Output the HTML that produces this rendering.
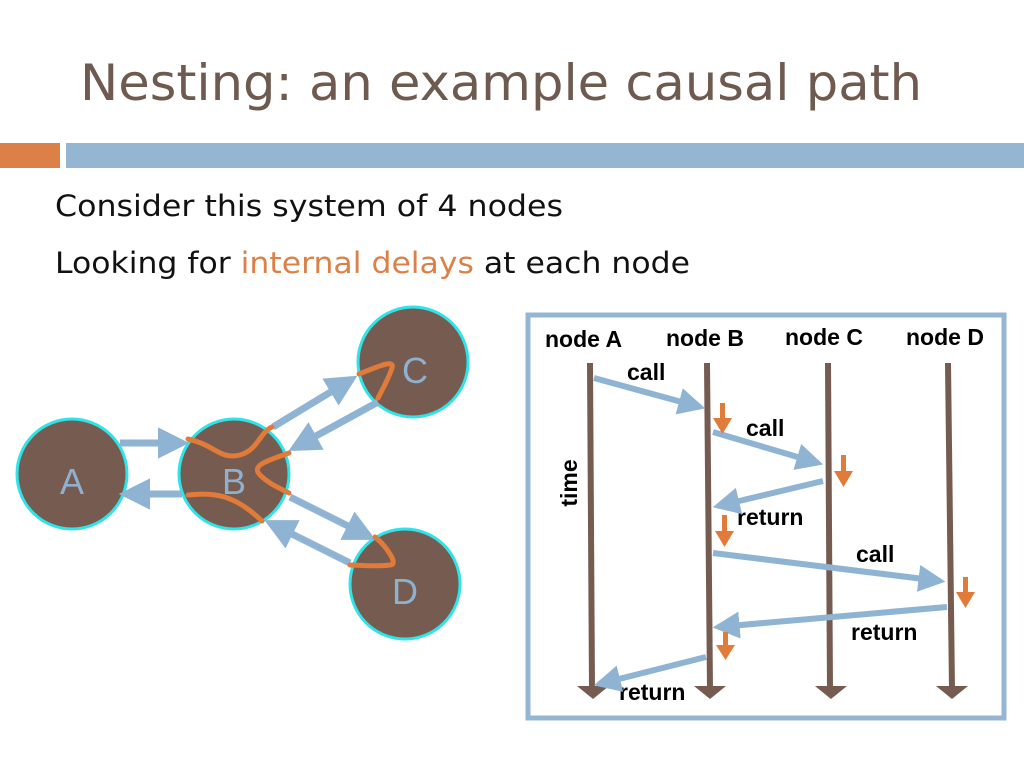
<!DOCTYPE html>
<html><head><meta charset="utf-8"><style>
html,body{margin:0;padding:0;background:#fff;}
svg{display:block;}
</style></head><body>
<svg width="1024" height="768" viewBox="0 0 1024 768" xmlns="http://www.w3.org/2000/svg">
<defs>
<marker id="bh" viewBox="0 0 10 10" refX="8" refY="5" markerWidth="4.5" markerHeight="4.5" orient="auto"><path d="M0,0 L10,5 L0,10 z" fill="#8fb3d3"/></marker>
</defs>
<rect width="1024" height="768" fill="#fff"/>
<text x="80" y="100" font-family="'DejaVu Sans','Liberation Sans',sans-serif" font-size="50" fill="#6e5a4f" textLength="842" lengthAdjust="spacingAndGlyphs">Nesting: an example causal path</text>
<rect x="0" y="143" width="60" height="25" fill="#dd8047"/>
<rect x="66" y="143" width="958" height="25" fill="#94b6d2"/>
<text x="55" y="216" font-family="'DejaVu Sans','Liberation Sans',sans-serif" font-size="29" fill="#111" textLength="508" lengthAdjust="spacingAndGlyphs">Consider this system of 4 nodes</text>
<text x="55" y="273" font-family="'DejaVu Sans','Liberation Sans',sans-serif" font-size="29" fill="#111" textLength="635" lengthAdjust="spacingAndGlyphs">Looking for <tspan fill="#dd8047">internal delays</tspan> at each node</text>

<g stroke="#2ee4e8" stroke-width="3" fill="#765c50">
<circle cx="72" cy="474" r="55"/><circle cx="234" cy="474" r="55"/>
<circle cx="413" cy="362" r="55"/><circle cx="405" cy="584" r="55"/>
</g>
<g font-family="'Liberation Sans',sans-serif" font-size="36" fill="#8fb0cf" text-anchor="middle">
<text x="72" y="494">A</text><text x="234" y="494">B</text><text x="415" y="383">C</text><text x="405" y="604">D</text>
</g>
<g stroke="#8fb3d3" stroke-width="7" fill="none" marker-end="url(#bh)">
<line x1="120" y1="443" x2="183" y2="443"/>
<line x1="182" y1="494" x2="125" y2="494"/>
<line x1="273" y1="427" x2="352" y2="379"/>
<line x1="378" y1="402" x2="294" y2="448"/>
<line x1="290" y1="497" x2="370" y2="537"/>
<line x1="350" y1="563" x2="270" y2="523"/>
</g>
<g stroke="#e07b39" stroke-width="5" fill="none" stroke-linecap="round">
<path d="M188,439 C215,445 220,460 240,455 C258,450 260,432 272,427"/>
<path d="M359,374 C375,368 395,358 392,368 C388,380 382,390 378,398"/>
<path d="M289,453 C270,460 250,465 260,475 C270,485 280,488 289,493"/>
<path d="M188,495 C215,492 235,495 262,521"/>
<path d="M375,537 C385,545 400,565 390,565 C375,567 360,565 350,565"/>
</g>

<rect x="528" y="315" width="476" height="403" fill="#fff" stroke="#94b6d2" stroke-width="5"/>
<g font-family="'Liberation Sans',sans-serif" font-size="23" font-weight="bold" fill="#000">
<text x="545" y="347">node A</text><text x="666" y="346">node B</text><text x="785" y="345">node C</text><text x="906" y="345">node D</text>
<text x="627" y="380">call</text><text x="746" y="436">call</text><text x="737" y="525">return</text>
<text x="856" y="562">call</text><text x="851" y="640">return</text><text x="619" y="700">return</text>
<text transform="translate(577,483) rotate(-90)" text-anchor="middle">time</text>
</g>
<g stroke="#765c50" stroke-width="6">
<line x1="590" y1="363" x2="592" y2="690"/><line x1="707" y1="363" x2="710" y2="690"/>
<line x1="828" y1="363" x2="830" y2="690"/><line x1="948" y1="363" x2="952" y2="690"/>
</g>
<g fill="#765c50">
<path d="M577,686 L609,686 L593,699 z"/><path d="M694,686 L726,686 L710,699 z"/>
<path d="M815,686 L847,686 L831,699 z"/><path d="M936,686 L968,686 L952,699 z"/>
</g>
<g stroke="#8fb3d3" stroke-width="6" fill="none" marker-end="url(#bh)">
<line x1="594" y1="378" x2="700" y2="407"/>
<line x1="713" y1="432" x2="818" y2="463"/>
<line x1="823" y1="481" x2="718" y2="506"/>
<line x1="713" y1="553" x2="940" y2="581"/>
<line x1="947" y1="607" x2="718" y2="627"/>
<line x1="706" y1="657" x2="599" y2="684"/>
</g>
<g fill="#e07b39">
<path d="M720,403h5v15h7l-9.5,16l-9.5,-16h7z"/>
<path d="M841,455h5v16h7l-9.5,16l-9.5,-16h7z"/>
<path d="M722,515h5v16h7l-9.5,16l-9.5,-16h7z"/>
<path d="M963,577h5v15h7l-9.5,16l-9.5,-16h7z"/>
<path d="M723,632h5v13h7l-9.5,15l-9.5,-15h7z"/>
</g>
</svg>
</body></html>
